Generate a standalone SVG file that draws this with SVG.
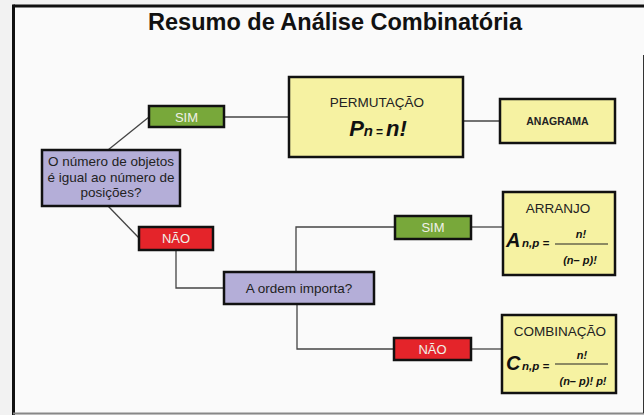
<svg xmlns="http://www.w3.org/2000/svg" width="644" height="415" viewBox="0 0 644 415">
<style>
.box{stroke:#111;stroke-width:2.5}
.yes{fill:#78a83a}
.no{fill:#e4242a}
.q{fill:#b4aed8}
.res{fill:#f6f2a2}
.lbl{font-family:"Liberation Sans",Arial,sans-serif;font-size:13px;fill:#f0f0e8;text-anchor:middle}
.t{font-family:"Liberation Sans",Arial,sans-serif;font-size:13.5px;fill:#222;text-anchor:middle}
.f{font-family:"Liberation Sans",Arial,sans-serif;font-weight:bold;font-style:italic;fill:#111}
.conn line,.conn polyline{stroke:#444;stroke-width:1.3;fill:none}
</style>
<rect x="0" y="0" width="644" height="415" fill="#f2f2f2"/>
<rect x="13" y="6" width="640" height="407" fill="#fafafa"/>
<line x1="13.5" y1="6" x2="644" y2="6" stroke="#111" stroke-width="3"/>
<line x1="13.5" y1="4.5" x2="13.5" y2="415" stroke="#111" stroke-width="3"/>
<line x1="13" y1="413.5" x2="644" y2="413.5" stroke="#888" stroke-width="2"/>
<line x1="643.5" y1="55" x2="643.5" y2="413" stroke="#333" stroke-width="1"/>
<text x="335" y="30" font-family="Liberation Sans,Arial,sans-serif" font-weight="bold" font-size="23.5" fill="#111" text-anchor="middle">Resumo de Análise Combinatória</text>

<g class="conn">
<line x1="108" y1="150" x2="149" y2="117"/>
<line x1="108" y1="206" x2="139" y2="238"/>
<line x1="224" y1="117" x2="289" y2="117"/>
<line x1="463" y1="121" x2="500" y2="121"/>
<polyline points="176,250 176,288 224,288"/>
<polyline points="296,272 296,227 395,227"/>
<polyline points="297,304 297,349 394,349"/>
<line x1="471" y1="227" x2="503" y2="227"/>
<line x1="471" y1="349" x2="502" y2="349"/>
</g>

<g id="sim1">
<rect class="box yes" x="149" y="106" width="75" height="21"/>
<text class="lbl" x="186.5" y="121.5">SIM</text>
</g>
<g id="pergunta1">
<rect class="box q" x="42" y="150" width="138" height="56"/>
<text class="t" x="111" y="166">O número de objetos</text>
<text class="t" x="111" y="182">é igual ao número de</text>
<text class="t" x="111" y="197">posições?</text>
</g>
<g id="nao1">
<rect class="box no" x="139" y="227" width="74" height="23"/>
<text class="lbl" x="176" y="243">NÃO</text>
</g>
<g id="permutacao">
<rect class="box res" x="289" y="77" width="174" height="80"/>
<text class="t" x="377" y="107">PERMUTAÇÃO</text>
<text class="f" x="378" y="136" text-anchor="middle"><tspan font-size="22">P</tspan><tspan font-size="15">n</tspan><tspan font-size="12" font-style="normal" dx="3">=</tspan><tspan font-size="22" dx="3">n!</tspan></text>
</g>
<g id="anagrama">
<rect class="box res" x="500" y="99" width="115" height="44"/>
<text x="557.5" y="125" font-family="Liberation Sans,Arial,sans-serif" font-weight="bold" font-size="10.5" fill="#222" text-anchor="middle">ANAGRAMA</text>
</g>
<g id="pergunta2">
<rect class="box q" x="224" y="272" width="150" height="32"/>
<text class="t" x="299" y="293" font-size="14">A ordem importa?</text>
</g>
<g id="sim2">
<rect class="box yes" x="395" y="216" width="76" height="23"/>
<text class="lbl" x="433" y="232">SIM</text>
</g>
<g id="arranjo">
<rect class="box res" x="503" y="192" width="112" height="83"/>
<text class="t" x="558" y="213">ARRANJO</text>
<text class="f" x="506" y="247" font-size="20">A</text>
<text class="f" x="522" y="247" font-size="11.5">n,p =</text>
<line x1="555" y1="244" x2="608" y2="244" stroke="#222" stroke-width="1"/>
<text class="f" x="581" y="238" font-size="11" text-anchor="middle">n!</text>
<text class="f" x="580" y="264" font-size="11" text-anchor="middle">(n– p)!</text>
</g>
<g id="nao2">
<rect class="box no" x="394" y="338" width="77" height="22"/>
<text class="lbl" x="432.5" y="354">NÃO</text>
</g>
<g id="combinacao">
<rect class="box res" x="502" y="315" width="114" height="78"/>
<text class="t" x="560" y="336">COMBINAÇÃO</text>
<text class="f" x="506" y="370" font-size="20">C</text>
<text class="f" x="522" y="370" font-size="11.5">n,p =</text>
<line x1="555" y1="364" x2="608" y2="364" stroke="#222" stroke-width="1"/>
<text class="f" x="582" y="359" font-size="11" text-anchor="middle">n!</text>
<text class="f" x="583" y="385" font-size="11" text-anchor="middle">(n– p)! p!</text>
</g>
</svg>
